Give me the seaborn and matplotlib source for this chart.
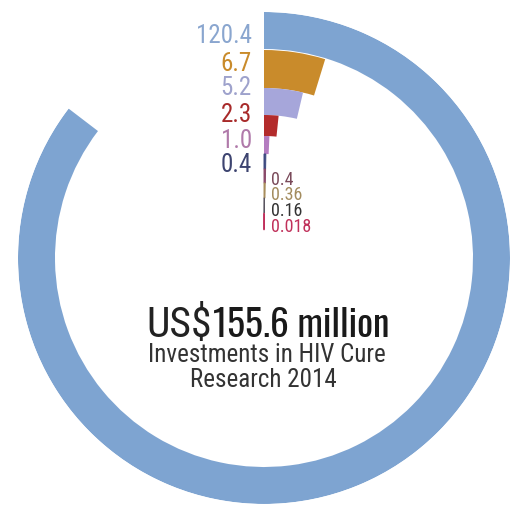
import numpy as np
import matplotlib
matplotlib.use("Agg")
import matplotlib.pyplot as plt
import seaborn as sns

# ---- data ----
values = [120.4, 6.7, 5.2, 2.3, 1.0, 0.4, 0.4, 0.36, 0.16, 0.018]
labels = ["120.4", "6.7", "5.2", "2.3", "1.0", "0.4", "0.4", "0.36", "0.16", "0.018"]
bar_colors = ["#7ea4d1", "#c98b2b", "#a6a6da", "#b32b2b", "#b47cc0", "#3d4a80",
              "#8a4a6a", "#a88d5c", "#5a5560", "#c0305c"]
label_colors = ["#8aa6cf", "#c98b2b", "#9ea2cc", "#a82a2a", "#b07aaa", "#3d4470",
                "#7a4a5a", "#a38c5e", "#333333", "#c0305a"]
currency = "US$"
total_text = "155.6 million"
subtitle = ["Investments in HIV Cure", "Research 2014"]
scale_max = 141.0  # value that would close the full circle

sns.set_theme(style="white")
FAM = ["Roboto Condensed", "Barlow Condensed", "DejaVu Sans"]
TFAM = ["Oswald", "Barlow Condensed", "Roboto Condensed", "DejaVu Sans"]
plt.rcParams["font.family"] = FAM

W, H = 511, 506
fig = plt.figure(figsize=(W / 100, H / 100), dpi=100)
fig.patch.set_facecolor("white")

cx, cy, R = 264, 259, 246  # center (px from top-left) and outer radius
ax = fig.add_axes([(cx - R) / W, (H - cy - R) / H, 2 * R / W, 2 * R / H], projection="polar")
ax.set_theta_zero_location("N")
ax.set_theta_direction(-1)
ax.set_ylim(0, R)
ax.axis("off")

# ring radii (layout, pixels)
outer = [246, 208, 170, 143, 122, 104, 89, 75, 60, 45]
inner = [209, 170, 143, 122, 104, 89, 75, 60, 45, 28]

for v, c, ro, ri in zip(values, bar_colors, outer, inner):
    w = np.deg2rad(v / scale_max * 360)
    ax.bar(w / 2, ro - ri, width=w, bottom=ri, color=c, edgecolor=c,
           linewidth=0.7 if v < 1 else 0, align="center")

def fx(x):
    return x / W

def fy(y):
    return (H - y) / H

left_y = [36, 64, 88, 115, 141, 165]
for lab, col, y in zip(labels[:6], label_colors[:6], left_y):
    fig.text(fx(252), fy(y), lab, color=col, ha="right", va="center",
             fontsize=18, family=FAM)
right_y = [180, 195, 211, 227]
for lab, col, y in zip(labels[6:], label_colors[6:], right_y):
    fig.text(fx(271), fy(y), lab, color=col, ha="left", va="center",
             fontsize=13, family=FAM)

fig.canvas.draw()
r = fig.canvas.get_renderer()
t1 = fig.text(0, fy(337), currency, fontsize=30, color="#222222", va="baseline",
              fontweight="normal", family=FAM)
t2 = fig.text(0, fy(337), total_text, fontsize=27, color="#1a1a1a", va="baseline",
              fontweight="bold", family=TFAM)
w1 = t1.get_window_extent(r).width
w2 = t2.get_window_extent(r).width
x0 = 267 - (w1 + w2) / 2
t1.set_x(fx(x0))
t2.set_x(fx(x0 + w1 + 1))

fig.text(fx(267), fy(362), subtitle[0], fontsize=18, color="#333333", ha="center",
         va="baseline", family=FAM)
fig.text(fx(263), fy(387), subtitle[1], fontsize=18, color="#333333", ha="center",
         va="baseline", family=FAM)

fig.savefig("out.png", dpi=100, facecolor="white")
